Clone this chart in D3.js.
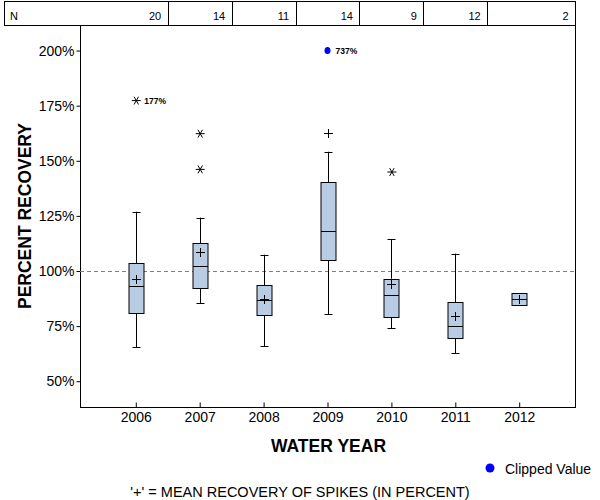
<!DOCTYPE html>
<html>
<head>
<meta charset="utf-8">
<script src="https://cdn.jsdelivr.net/npm/d3@7"></script>
<style>
  body { margin: 0; background: #fff; }
  text { font-family: "Liberation Sans", Arial, sans-serif; }
</style>
</head>
<body>
<div id="chart"></div>
<script>
// values
const years = ["2006", "2007", "2008", "2009", "2010", "2011", "2012"];
const counts = [20, 14, 11, 14, 9, 12, 2];
const whiskerLow = [65.4, 85.3, 65.8, 80.4, 74.0, 62.7, 84.4];
const q1 = [80.8, 92.1, 79.9, 104.9, 79.4, 69.5, 84.4];
const medians = [93.1, 102.1, 86.7, 118.0, 89.0, 74.9, 87.2];
const q3 = [103.5, 112.6, 93.5, 140.2, 96.5, 85.8, 89.9];
const whiskerHigh = [126.9, 124.2, 107.4, 154.1, 114.4, 107.9, 89.9];
const means = [96.4, 108.8, 87.3, 162.4, 94.2, 79.6, 87.2];
const outlierYears = ["2006", "2007", "2007", "2010"];
const outlierValues = [177.3, 162.3, 146.1, 144.9];
const outlierLabels = ["177%", "", "", ""];
const clippedYears = ["2009"];
const clippedValues = [737];
const yTicks = [50, 75, 100, 125, 150, 175, 200];

const width = 600, height = 500;
const marginLeft = 80, marginRight = 25, plotTop = 25, plotBottom = 407;
const yMin = 38.3, yMax = 211.6;
const boxW = 15, capW = 8, plusW = 9;

const x = d3.scalePoint()
    .domain(years)
    .range([marginLeft, width - marginRight])
    .padding(0.873);

const y = d3.scaleLinear()
    .domain([yMin, yMax])
    .range([plotBottom, plotTop]);

const svg = d3.select("#chart").append("svg")
    .attr("width", width)
    .attr("height", height);

const px = v => Math.round(v) + 0.5;

// N table across the top
const tblLeft = 4, tblTop = 1, tblRight = width - marginRight;
const step = x.step();
const edges = years.map(d => x(d) + step / 2);
edges[edges.length - 1] = tblRight;

svg.append("rect")
    .attr("x", tblLeft + 0.5).attr("y", tblTop + 0.5)
    .attr("width", tblRight - tblLeft).attr("height", plotTop - tblTop)
    .attr("fill", "none").attr("stroke", "#000");

svg.selectAll(".divider")
    .data(edges.slice(0, -1))
    .join("line")
    .attr("x1", d => px(d)).attr("x2", d => px(d))
    .attr("y1", tblTop).attr("y2", plotTop)
    .attr("stroke", "#000");

svg.append("text")
    .attr("x", 10).attr("y", 19.5)
    .attr("font-size", 11)
    .text("N");

svg.selectAll(".count")
    .data(counts)
    .join("text")
    .attr("x", (d, i) => edges[i] - 6.5)
    .attr("y", 19.5)
    .attr("text-anchor", "end")
    .attr("font-size", 11)
    .text(d => d);

// frame
svg.append("rect")
    .attr("x", marginLeft + 0.5).attr("y", plotTop + 0.5)
    .attr("width", width - marginRight - marginLeft).attr("height", plotBottom - plotTop)
    .attr("fill", "none").attr("stroke", "#000");

// axes
const yAxis = svg.append("g")
    .attr("transform", `translate(${marginLeft + 0.5},0)`)
    .call(d3.axisLeft(y).tickValues(yTicks).tickSize(4).tickPadding(2).tickFormat(d => d + "%"));
yAxis.select(".domain").remove();
yAxis.selectAll("text").attr("font-size", 14).attr("font-family", null).attr("fill", "#000");

const xAxis = svg.append("g")
    .attr("transform", `translate(0,${plotBottom + 0.5})`)
    .call(d3.axisBottom(x).tickSize(-5).tickPadding(5));
xAxis.select(".domain").remove();
xAxis.selectAll("text").attr("font-size", 14).attr("font-family", null).attr("fill", "#000");

// reference line at 100%
svg.append("line")
    .attr("x1", marginLeft).attr("x2", width - marginRight)
    .attr("y1", px(y(100))).attr("y2", px(y(100)))
    .attr("stroke", "#808080")
    .attr("stroke-dasharray", "4,3");

// boxes
const boxes = svg.append("g").attr("stroke", "#000").attr("stroke-width", 1);
years.forEach((yr, i) => {
    const cx = px(x(yr));
    if (whiskerHigh[i] > q3[i]) {
        boxes.append("line").attr("x1", cx).attr("x2", cx)
            .attr("y1", y(whiskerHigh[i])).attr("y2", y(q3[i]));
        boxes.append("line").attr("x1", cx - capW / 2).attr("x2", cx + capW / 2)
            .attr("y1", px(y(whiskerHigh[i]))).attr("y2", px(y(whiskerHigh[i])));
    }
    if (whiskerLow[i] < q1[i]) {
        boxes.append("line").attr("x1", cx).attr("x2", cx)
            .attr("y1", y(q1[i])).attr("y2", y(whiskerLow[i]));
        boxes.append("line").attr("x1", cx - capW / 2).attr("x2", cx + capW / 2)
            .attr("y1", px(y(whiskerLow[i]))).attr("y2", px(y(whiskerLow[i])));
    }
    boxes.append("rect")
        .attr("x", cx - boxW / 2).attr("width", boxW)
        .attr("y", px(y(q3[i]))).attr("height", Math.round(y(q1[i]) - y(q3[i])))
        .attr("fill", "#b8cce4");
    boxes.append("line")
        .attr("x1", cx - boxW / 2).attr("x2", cx + boxW / 2)
        .attr("y1", px(y(medians[i]))).attr("y2", px(y(medians[i])));
    // mean marker
    const my = px(y(means[i]));
    boxes.append("path")
        .attr("d", `M${cx - plusW / 2},${my}H${cx + plusW / 2}M${cx},${my - plusW / 2}V${my + plusW / 2}`);
});

// outliers as asterisks
const star = (cx, cy, r) => {
    const dx = r * Math.cos(Math.PI / 3), dy = r * Math.sin(Math.PI / 3);
    return `M${cx - r},${cy}H${cx + r}M${cx - dx},${cy - dy}L${cx + dx},${cy + dy}M${cx - dx},${cy + dy}L${cx + dx},${cy - dy}`;
};
outlierValues.forEach((v, i) => {
    const cx = x(outlierYears[i]) + 0.5, cy = y(v);
    svg.append("path").attr("d", star(cx, cy, 4.5))
        .attr("stroke", "#000").attr("fill", "none");
    if (outlierLabels[i]) {
        svg.append("text")
            .attr("x", cx + 8).attr("y", cy + 3.5)
            .attr("font-size", 8.5).attr("font-weight", "bold")
            .text(outlierLabels[i]);
    }
});

// clipped values drawn at the top tick
clippedValues.forEach((v, i) => {
    const cx = x(clippedYears[i]), cy = y(Math.min(v, 200));
    svg.append("ellipse")
        .attr("cx", cx).attr("cy", cy).attr("rx", 3).attr("ry", 3.5)
        .attr("fill", "#0000ff");
    svg.append("text")
        .attr("x", cx + 8).attr("y", cy + 3.5)
        .attr("font-size", 8.5).attr("font-weight", "bold")
        .text(v + "%");
});

// titles
svg.append("text")
    .attr("transform", `translate(31,${(plotTop + plotBottom) / 2}) rotate(-90)`)
    .attr("text-anchor", "middle")
    .attr("font-size", 17.5).attr("font-weight", "bold")
    .text("PERCENT RECOVERY");

svg.append("text")
    .attr("x", (marginLeft + width - marginRight) / 2 + 1).attr("y", 451.5)
    .attr("text-anchor", "middle")
    .attr("font-size", 17.5).attr("font-weight", "bold")
    .text("WATER YEAR");

// legend
svg.append("circle")
    .attr("cx", 490).attr("cy", 468).attr("r", 4.5)
    .attr("fill", "#0000ff");
svg.append("text")
    .attr("x", 505).attr("y", 474)
    .attr("font-size", 14)
    .text("Clipped Value");

svg.append("text")
    .attr("x", 300).attr("y", 497)
    .attr("text-anchor", "middle")
    .attr("font-size", 14.5)
    .text("'+' = MEAN RECOVERY OF SPIKES (IN PERCENT)");
</script>
</body>
</html>
